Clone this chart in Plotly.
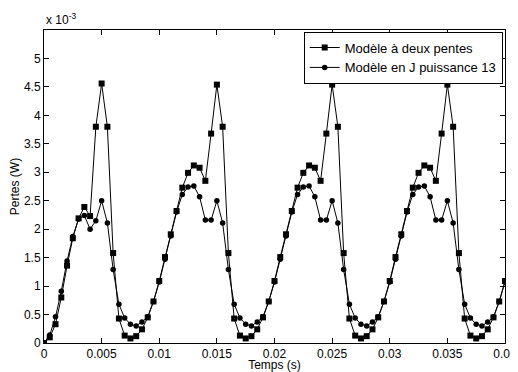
import numpy as np
import plotly.graph_objects as go

# Time samples (s)
temps = np.linspace(0, 0.04, 81)

# Losses, in units of 1e-3 W
deux_pentes = [
    0.00, 0.10, 0.33, 0.80, 1.36, 1.84, 2.19, 2.39, 2.23, 3.80, 4.56,
    3.80, 1.58, 0.43, 0.13, 0.08, 0.12, 0.24, 0.45, 0.73, 1.09,
    1.51, 1.91, 2.32, 2.73, 2.99, 3.12, 3.08, 2.85, 3.68, 4.54,
    3.80, 1.58, 0.43, 0.13, 0.08, 0.12, 0.24, 0.45, 0.73, 1.09,
    1.51, 1.91, 2.32, 2.73, 2.99, 3.12, 3.08, 2.85, 3.68, 4.54,
    3.80, 1.58, 0.43, 0.13, 0.08, 0.12, 0.24, 0.45, 0.73, 1.09,
    1.51, 1.91, 2.32, 2.73, 2.99, 3.12, 3.08, 2.85, 3.68, 4.54,
    3.80, 1.58, 0.43, 0.13, 0.08, 0.12, 0.24, 0.45, 0.73, 1.09,
]
puissance_13 = [
    0.00, 0.14, 0.46, 0.91, 1.44, 1.87, 2.18, 2.24, 2.00, 2.15, 2.50,
    2.11, 1.29, 0.68, 0.44, 0.33, 0.30, 0.37, 0.46, 0.73, 1.07,
    1.47, 1.88, 2.30, 2.61, 2.74, 2.76, 2.57, 2.16, 2.16, 2.50,
    2.11, 1.29, 0.68, 0.44, 0.33, 0.30, 0.37, 0.46, 0.73, 1.07,
    1.47, 1.88, 2.30, 2.61, 2.74, 2.76, 2.57, 2.16, 2.16, 2.50,
    2.11, 1.29, 0.68, 0.44, 0.33, 0.30, 0.37, 0.46, 0.73, 1.07,
    1.47, 1.88, 2.30, 2.61, 2.74, 2.76, 2.57, 2.16, 2.16, 2.50,
    2.11, 1.29, 0.68, 0.44, 0.33, 0.30, 0.37, 0.46, 0.73, 1.07,
]

x_ticks = [0, 0.005, 0.01, 0.015, 0.02, 0.025, 0.03, 0.035, 0.04]
x_labels = ["0", "0.005", "0.01", "0.015", "0.02", "0.025", "0.03", "0.035", "0.04"]
y_ticks = [0, 0.5, 1, 1.5, 2, 2.5, 3, 3.5, 4, 4.5, 5]
y_labels = ["0", "0.5", "1", "1.5", "2", "2.5", "3", "3.5", "4", "4.5", "5"]

FONT = "Liberation Sans, Arial, sans-serif"

fig = go.Figure()
fig.add_trace(go.Scatter(
    x=temps, y=deux_pentes, mode="lines+markers", name="Modèle à deux pentes",
    line=dict(color="black", width=1),
    marker=dict(symbol="square", size=6, color="black"),
))
fig.add_trace(go.Scatter(
    x=temps, y=puissance_13, mode="lines+markers", name="Modèle en J puissance 13",
    line=dict(color="black", width=1),
    marker=dict(symbol="circle", size=5.5, color="black"),
))

axis_common = dict(
    showline=True, linecolor="black", linewidth=1, mirror="ticks",
    ticks="inside", ticklen=5, tickcolor="black", showgrid=False, zeroline=False,
    tickfont=dict(family=FONT, size=12, color="black"), automargin=False,
    ticklabeloverflow="allow",
)
fig.update_xaxes(range=[0, 0.04], tickvals=x_ticks, ticktext=x_labels,
                 title=dict(text="Temps (s)", font=dict(family=FONT, size=12, color="black"), standoff=3),
                 **axis_common)
fig.update_yaxes(range=[0, 5.5], tickvals=y_ticks, ticktext=y_labels,
                 title=dict(text="Pertes (W)", font=dict(family=FONT, size=12, color="black"), standoff=6),
                 **axis_common)

fig.add_annotation(x=0, y=1, xref="paper", yref="paper", xanchor="left", yanchor="bottom",
                   text="x 10<sup>-3</sup>", showarrow=False, yshift=1,
                   font=dict(family=FONT, size=12, color="black"))

# page body adds an 8px offset, so the figure is sized 8px smaller
fig.update_layout(
    width=510, height=364,
    margin=dict(l=36, r=13, t=22, b=29),
    paper_bgcolor="white", plot_bgcolor="white",
    font=dict(family=FONT, size=12, color="black"),
    legend=dict(x=0.995, y=0.995, xanchor="right", yanchor="top",
                bordercolor="black", borderwidth=1, bgcolor="white",
                font=dict(family=FONT, size=13, color="black"),
                itemwidth=30, tracegroupgap=0),
    showlegend=True,
)

fig.write_html("out.html")
